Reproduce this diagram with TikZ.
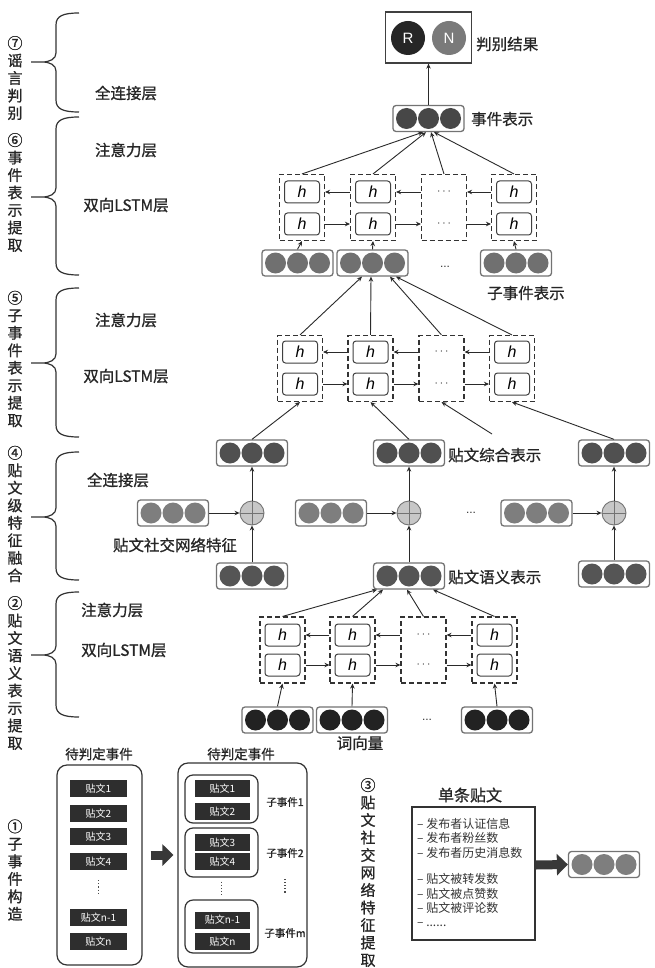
\documentclass[tikz,border=0pt]{standalone}
\usepackage{fontspec}
\setmainfont{Liberation Sans}
\newfontfamily\cjk{Noto Sans CJK SC}
\newfontfamily\cjkb{Noto Sans CJK SC}[FakeBold=0.9]
\usetikzlibrary{arrows.meta,calc}
\definecolor{cword}{HTML}{222222}
\definecolor{csem}{HTML}{555555}
\definecolor{csoc}{HTML}{7E7E7E}
\definecolor{ccomp}{HTML}{505050}
\definecolor{csub}{HTML}{707070}
\definecolor{cev}{HTML}{474747}
\definecolor{cline}{HTML}{2A2A2A}
\newcommand{\vecrow}[4]{%
  \node[vframe] (#1) at (#2,#3) {};
  \foreach \dx in {-22,0,22}{\fill[#4] ([xshift=\dx pt]#1.center) circle (10.5pt);}%
}
\newcommand{\lstmblock}[8]{%
  \foreach \i/\xx in {1/#5,2/#6,3/#7,4/#8}{\node[dbox] (#1\i) at (\xx,#2) {};}
  \foreach \i/\xx in {1/#5,2/#6,4/#8}{\node[hbox] (#1u\i) at (\xx,#3) {h};\node[hbox] (#1l\i) at (\xx,#4) {h};}
  \node[dots] (#1du) at (#7,#3) {$\cdots$};
  \node[dots] (#1dl) at (#7,#4) {$\cdots$};
  \foreach \a/\b in {2/1,3/2,4/3}{\draw[arr] (#1\a.west |- #1du) -- (#1\b.east |- #1du);}
  \foreach \a/\b in {1/2,2/3,3/4}{\draw[arr] (#1\a.east |- #1dl) -- (#1\b.west |- #1dl);}
}
\newcommand{\sidebrace}[3]{%
  \draw[bracel] (79,#1) .. controls (63,#1) and (56,#1+3) .. (56,#1+12) -- (56,#2-9)
    .. controls (56,#2-3) and (50,#2) .. (42,#2) -- (31,#2)
    (42,#2) .. controls (50,#2) and (56,#2+3) .. (56,#2+9) -- (56,#3-12)
    .. controls (56,#3-3) and (63,#3) .. (79,#3);}
\begin{document}
\begin{tikzpicture}[x=1pt,y=-1pt,
  arr/.style={-{Stealth[length=5pt,width=4.5pt]}, line width=0.9pt, draw=cline},
  vframe/.style={draw=black!55, line width=1.3pt, rounded corners=3pt, minimum width=71pt, minimum height=26pt, inner sep=0pt, fill=white},
  dbox/.style={draw=black!80, dash pattern=on 5pt off 3pt, line width=1.1pt, minimum width=45pt, minimum height=66pt, inner sep=0pt},
  hbox/.style={draw=black!75, line width=1pt, rounded corners=3pt, minimum width=35pt, minimum height=22pt, inner sep=0pt, font=\fontsize{16}{16}\selectfont\itshape},
  dots/.style={inner sep=0pt, font=\fontsize{12}{12}\selectfont, text=black!80},
  lbl/.style={font=\cjkb\fontsize{15.5}{15.5}\selectfont, text=black!85, inner sep=0pt},
  vlbl/.style={font=\cjkb\fontsize{15}{17.5}\selectfont, align=center, inner sep=0pt, text=black!85},
  bracel/.style={draw=black!80, line width=1.2pt},
  plus/.style={circle, draw=black!55, fill=black!22, minimum size=24pt, inner sep=0pt, line width=0.9pt,
    path picture={\draw[black!55, line width=0.8pt] (path picture bounding box.north) -- (path picture bounding box.south) (path picture bounding box.west) -- (path picture bounding box.east);}},
  post/.style={fill=black!82, text=white, minimum width=57pt, minimum height=17pt, inner sep=0pt, font=\cjk\fontsize{10}{10}\selectfont},
  postb/.style={post, minimum width=55pt},
  grp/.style={draw=black!80, line width=1.2pt, rounded corners=8pt, minimum width=73pt},
  small/.style={font=\cjkb\fontsize{10.5}{10.5}\selectfont, text=black!85, inner sep=0pt},
  bigarrow/.style={line width=9pt, draw=black!78, -{Triangle[length=11pt,width=21pt]}}
]
\fill[white] (0,0) rectangle (654,968);
\useasboundingbox (0,0) rectangle (654,968);

% ---------- left braces and labels ----------
\sidebrace{13}{62}{112}
\sidebrace{117}{197}{275}
\sidebrace{288}{363}{437}
\sidebrace{452}{517}{580}
\sidebrace{592}{655}{717}
\node[vlbl] (g7) at (15,78) {⑦\\谣\\言\\判\\别};
\node[vlbl] (g6) at (15,192.5) {⑥\\事\\件\\表\\示\\提\\取};
\node[vlbl] (g5) at (15,359) {⑤\\子\\事\\件\\表\\示\\提\\取};
\node[vlbl] (g4) at (15,514) {④\\贴\\文\\级\\特\\征\\融\\合};
\node[vlbl] (g2) at (15,673) {②\\贴\\文\\语\\义\\表\\示\\提\\取};
\node[vlbl] (g1) at (15,870) {①\\子\\事\\件\\构\\造};
\node[vlbl] (g3) at (368,872.5) {③\\贴\\文\\社\\交\\网\\络\\特\\征\\提\\取};

\node[lbl] (a7) at (126,93) {全连接层};
\node[lbl] (a6) at (126,150) {注意力层};
\node[lbl] (b6) at (126,205) {双向LSTM层};
\node[lbl] (a5) at (126,320) {注意力层};
\node[lbl] (b5) at (126,376) {双向LSTM层};
\node[lbl] (a4) at (118,480) {全连接层};
\node[lbl, anchor=west] (a2) at (81,610) {注意力层};
\node[lbl, anchor=west] (b2) at (81,650) {双向LSTM层};

% ---------- result ----------
\node[draw=black!75, line width=1.3pt, minimum width=86pt, minimum height=51pt, inner sep=0pt] (res) at (428.5,37.5) {};
\node[circle, fill=black!85, minimum size=34pt, inner sep=0pt, text=white, font=\fontsize{15}{15}\selectfont] (rr) at (408,38) {R};
\node[circle, fill=black!52, minimum size=34pt, inner sep=0pt, text=white, font=\fontsize{15}{15}\selectfont] (rn) at (449,38) {N};
\node[lbl, anchor=west] (lres) at (476,44) {判别结果};

% ---------- event representation ----------
\vecrow{ev}{428.5}{118.5}{cev}
\node[lbl, anchor=west] (lev) at (471,119) {事件表示};
\draw[arr] (ev.north) -- (res.south);

% ---------- top LSTM ----------
\lstmblock{t}{207.5}{192}{224}{302}{373}{444}{514}
\draw[arr] (t1.north) -- ([xshift=-5.5pt]ev.south);
\draw[arr] (t2.north) -- ([xshift=-2.5pt]ev.south);
\draw[arr] (t3.north) -- ([xshift=2.5pt]ev.south);
\draw[arr] (t4.north) -- ([xshift=5.5pt]ev.south);

% ---------- sub-event representations ----------
\vecrow{s1}{297.5}{263}{csub}
\vecrow{s2}{372.5}{263}{csub}
\vecrow{s3}{516}{263}{csub}
\node[dots] (sdots) at (445,267) {...};
\node[lbl, anchor=west] (lsub) at (487,293) {子事件表示};
\draw[arr] (s1.north) -- (t1.south);
\draw[arr] (s2.north) -- (t2.south);
\draw[arr] (s3.north) -- (t4.south);

% ---------- middle LSTM ----------
\lstmblock{u}{368.5}{352}{384}{300}{370.5}{441.5}{512}
\draw[arr] (u1.north) -- ([xshift=-10.5pt]s2.south);
\draw[arr] (u2.north) -- ([xshift=-1.5pt]s2.south);
\draw[arr] (u3.north) -- ([xshift=17.5pt]s2.south);
\draw[arr] (u4.north) -- ([xshift=23.5pt]s2.south);

% ---------- fusion ----------
\vecrow{c1}{252}{453}{ccomp}
\vecrow{c2}{409}{453}{ccomp}
\vecrow{c3}{614}{453}{ccomp}
\node[lbl, anchor=west] (lcomp) at (448,455) {贴文综合表示};
\coordinate (cfree) at (492,434);
\draw[arr] (c1.north) -- (u1.south);
\draw[arr] (c2.north) -- (u2.south);
\draw[arr] (cfree) -- (u3.south);
\draw[arr] (c3.north) -- (u4.south);

\vecrow{f1}{173}{513}{csoc}
\vecrow{f2}{331}{513}{csoc}
\vecrow{f3}{536.5}{513}{csoc}
\node[plus] (p1) at (252,513) {};
\node[plus] (p2) at (409,513) {};
\node[plus] (p3) at (614,513) {};
\node[dots] (fdots) at (471,513) {...};
\node[lbl] (lsoc) at (175,545) {贴文社交网络特征};
\draw[arr] (f1.east) -- (p1.west);
\draw[arr] (f2.east) -- (p2.west);
\draw[arr] (f3.east) -- (p3.west);
\draw[arr] (p1.north) -- (c1.south);
\draw[arr] (p2.north) -- (c2.south);
\draw[arr] (p3.north) -- (c3.south);

\vecrow{m1}{252}{576}{csem}
\vecrow{m2}{409}{576}{csem}
\vecrow{m3}{614}{574}{csem}
\node[lbl, anchor=west] (lsem) at (448,577) {贴文语义表示};
\draw[arr] (m1.north) -- (p1.south);
\draw[arr] (m2.north) -- (p2.south);
\draw[arr] (m3.north) -- (p3.south);

% ---------- bottom LSTM ----------
\lstmblock{b}{650}{635}{665}{282.5}{352.5}{423.5}{494.5}
\draw[arr] (b1.north) -- ([xshift=-32pt]m2.south);
\draw[arr] (b2.north) -- ([xshift=-26pt]m2.south);
\draw[arr] (b3.north) -- ([xshift=-2pt]m2.south);
\draw[arr] (b4.north) -- ([xshift=24pt]m2.south);

\vecrow{w1}{277.5}{720}{cword}
\vecrow{w2}{352}{720}{cword}
\vecrow{w3}{497}{720}{cword}
\node[dots] (wdots) at (427,720) {...};
\node[lbl] (lword) at (360,743) {词向量};
\draw[arr] (w1.north) -- (b1.south);
\draw[arr] (w2.north) -- (b2.south);
\draw[arr] (w3.north) -- (b4.south);

% ---------- (1) sub-event construction ----------
\node[font=\cjkb\fontsize{13.5}{13.5}\selectfont, text=black!85, inner sep=0pt] (ttl1) at (99,754) {待判定事件};
\node[font=\cjkb\fontsize{13.5}{13.5}\selectfont, text=black!85, inner sep=0pt] (ttl2) at (241,754) {待判定事件};
\node[draw=black!80, line width=1.2pt, rounded corners=10pt, minimum width=85pt, minimum height=200pt, inner sep=0pt] (eb1) at (99.5,865) {};
\node[draw=black!80, line width=1.2pt, rounded corners=10pt, minimum width=129pt, minimum height=204pt, inner sep=0pt] (eb2) at (242.5,865) {};
\node[post] (pa1) at (98.5,788.5) {贴文1};
\node[post] (pa2) at (98.5,813.5) {贴文2};
\node[post] (pa3) at (98.5,836.5) {贴文3};
\node[post] (pa4) at (98.5,861.5) {贴文4};
\node[post] (pa5) at (98.5,917.5) {贴文n-1};
\node[post] (pa6) at (98.5,941.5) {贴文n};
\draw[dotted, line width=1.1pt, black!70] ([yshift=-10pt]pa4.south) -- ([yshift=14pt]pa5.north);
\draw[bigarrow] ([xshift=8pt,yshift=10pt]eb1.east) -- ([xshift=-4pt,yshift=10pt]eb2.west);

\node[grp, minimum height=48pt] (gr1) at (221.5,799) {};
\node[grp, minimum height=49pt] (gr2) at (221.5,852.5) {};
\node[grp, minimum height=53pt] (gr3) at (221.5,926.5) {};
\node[postb] (pb1) at (222.5,788.5) {贴文1};
\node[postb] (pb2) at (222.5,811.5) {贴文2};
\node[postb] (pb3) at (222.5,842.5) {贴文3};
\node[postb] (pb4) at (222.5,861.5) {贴文4};
\node[postb] (pb5) at (222.5,920) {贴文n-1};
\node[postb] (pb6) at (222.5,941.5) {贴文n};
\draw[dotted, line width=1.1pt, black!70] ([yshift=-4pt]gr2.south) -- ([yshift=4pt]gr3.north);
\node[small] (sl1) at (285,802) {子事件1};
\node[small] (sl2) at (285,853) {子事件2};
\node[small] (slm) at (285,933) {子事件m};
\draw[dotted, line width=1.1pt, black!70] ([yshift=-21pt]sl2.south) -- ([yshift=34pt]slm.north);

% ---------- (3) social features ----------
\node[font=\cjkb\fontsize{16}{16}\selectfont, text=black!85, inner sep=0pt] (ttl3) at (470,795) {单条贴文};
\node[draw=black!80, line width=1.2pt, minimum width=123pt, minimum height=133pt, inner sep=0pt] (sp) at (473.5,873.5) {};
\node[anchor=north west, align=left, inner sep=0pt, text=black!80, font=\cjk\fontsize{12}{14.3}\selectfont] (feat) at (417,818)
  {– 发布者认证信息\\– 发布者粉丝数\\– 发布者历史消息数\\[12.5pt]– 贴文被转发数\\– 贴文被点赞数\\– 贴文被评论数\\– ......};
\vecrow{soc}{604}{864.5}{csoc}
\draw[bigarrow] ([yshift=8.5pt]sp.east) -- (soc.west);
\end{tikzpicture}
\end{document}
